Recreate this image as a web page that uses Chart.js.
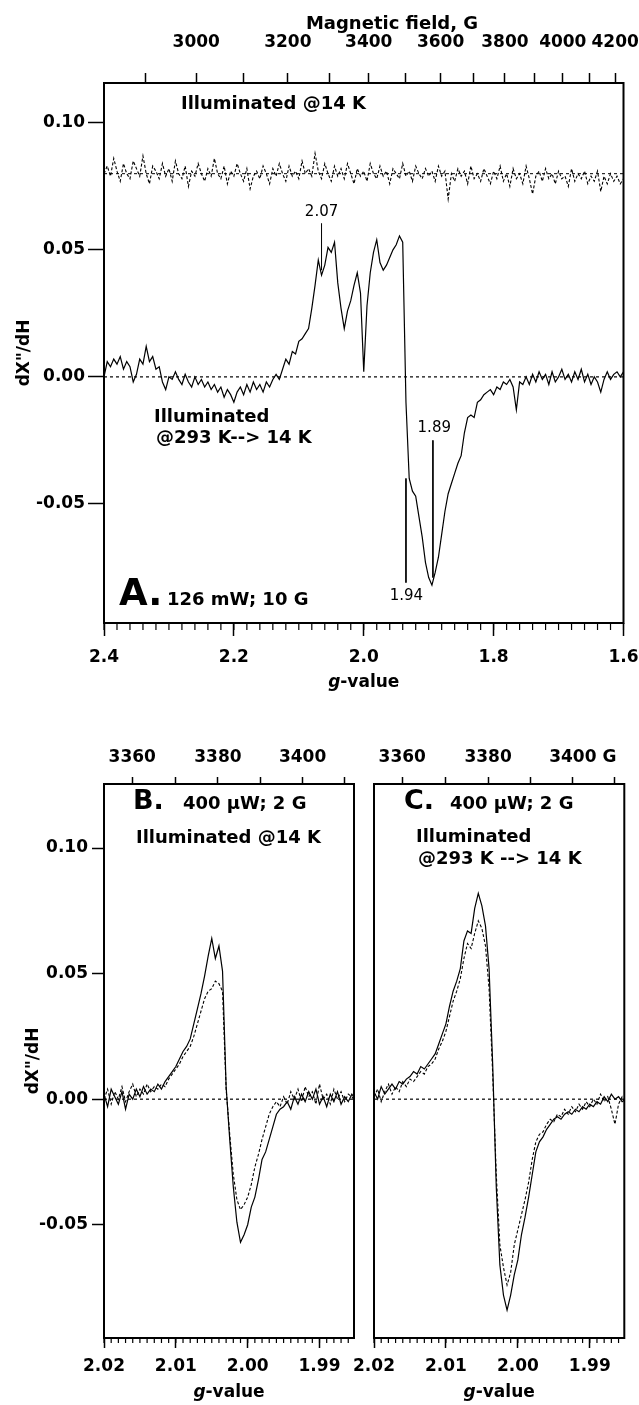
<!DOCTYPE html>
<html>
<head>
<meta charset="utf-8">
<script src="https://cdn.jsdelivr.net/npm/chart.js@4.4.1/dist/chart.umd.min.js"></script>
<style>
  html, body { margin: 0; padding: 0; background: #fff; }
  body { width: 639px; height: 1405px; position: relative; overflow: hidden; }
  canvas { position: absolute; }
  #chartA { left: 0; top: 0; }
  #chartB { left: 0; top: 700px; }
  #chartC { left: 330px; top: 700px; }
</style>
</head>
<body>
<canvas id="chartA" width="639" height="700"></canvas>
<canvas id="chartB" width="364" height="705"></canvas>
<canvas id="chartC" width="309" height="705"></canvas>
<script>
// g * B (gauss) at the spectrometer frequency, used for the top field axes
const K = 6774;

// ---- panel A : wide scan, g from 2.4 down to 1.6, one point every 0.005 ----
const gStartA = 2.4;
const gStepA = 0.005;
const gTicksA = [2.4, 2.2, 2.0, 1.8, 1.6];
const fieldTicksA = [2900, 3000, 3100, 3200, 3300, 3400, 3500, 3600, 3700, 3800, 3900, 4000, 4100, 4200];
const fieldLabelsA = [3000, 3200, 3400, 3600, 3800, 4000, 4200];

// illuminated @14 K (drawn offset to 0.08)
const illum14A = [
  0.080, 0.083, 0.079, 0.086, 0.081, 0.077, 0.084, 0.080, 0.078, 0.085,
  0.082, 0.079, 0.087, 0.080, 0.076, 0.083, 0.081, 0.078, 0.084, 0.079,
  0.082, 0.077, 0.085, 0.080, 0.078, 0.083, 0.075, 0.081, 0.079, 0.084,
  0.080, 0.077, 0.082, 0.079, 0.086, 0.080, 0.078, 0.083, 0.076, 0.081,
  0.079, 0.084, 0.080, 0.077, 0.082, 0.074, 0.079, 0.081, 0.078, 0.083,
  0.080, 0.076, 0.082, 0.079, 0.084, 0.080, 0.077, 0.083, 0.079, 0.081,
  0.078, 0.085, 0.080, 0.082, 0.079, 0.088, 0.081, 0.078, 0.084, 0.080,
  0.077, 0.083, 0.079, 0.082, 0.078, 0.084, 0.080, 0.076, 0.082, 0.079,
  0.081, 0.077, 0.084, 0.080, 0.078, 0.083, 0.079, 0.081, 0.076, 0.082,
  0.080, 0.078, 0.084, 0.079, 0.081, 0.077, 0.083, 0.080, 0.078, 0.082,
  0.079, 0.081, 0.077, 0.083, 0.079, 0.081, 0.070, 0.080, 0.077, 0.082,
  0.079, 0.081, 0.076, 0.083, 0.078, 0.080, 0.077, 0.082, 0.079, 0.076,
  0.081, 0.078, 0.083, 0.077, 0.080, 0.075, 0.082, 0.078, 0.080, 0.076,
  0.083, 0.078, 0.072, 0.079, 0.081, 0.077, 0.082, 0.078, 0.080, 0.076,
  0.081, 0.078, 0.079, 0.075, 0.082, 0.077, 0.080, 0.078, 0.081, 0.076,
  0.079, 0.077, 0.081, 0.073, 0.079, 0.076, 0.080, 0.077, 0.079, 0.076,
  0.078
];

// illuminated @293 K --> 14 K
const illum293A = [
  0.000, 0.006, 0.004, 0.007, 0.005, 0.008, 0.003, 0.006, 0.004, -0.002,
  0.001, 0.007, 0.005, 0.012, 0.006, 0.008, 0.003, 0.004, -0.002, -0.005,
  0.000, -0.001, 0.002, -0.001, -0.003, 0.001, -0.002, -0.004, 0.000, -0.003,
  -0.001, -0.004, -0.002, -0.005, -0.003, -0.006, -0.004, -0.008, -0.005, -0.007,
  -0.010, -0.006, -0.004, -0.007, -0.003, -0.006, -0.002, -0.005, -0.003, -0.006,
  -0.002, -0.004, -0.001, 0.001, -0.001, 0.003, 0.007, 0.005, 0.010, 0.009,
  0.014, 0.015, 0.017, 0.019, 0.027, 0.036, 0.046, 0.040, 0.044, 0.051,
  0.049, 0.053, 0.037, 0.027, 0.019, 0.026, 0.030, 0.036, 0.041, 0.033,
  0.002, 0.028, 0.041, 0.049, 0.054, 0.045, 0.042, 0.044, 0.047, 0.050,
  0.052, 0.0555, 0.053, -0.010, -0.040, -0.045, -0.047, -0.055, -0.063, -0.073,
  -0.079, -0.082, -0.077, -0.071, -0.062, -0.053, -0.046, -0.042, -0.038, -0.034,
  -0.031, -0.022, -0.016, -0.015, -0.016, -0.010, -0.009, -0.007, -0.006, -0.005,
  -0.007, -0.004, -0.005, -0.002, -0.003, -0.001, -0.004, -0.013, -0.002, -0.003,
  0.000, -0.003, 0.001, -0.002, 0.002, -0.001, 0.001, -0.003, 0.002, -0.002,
  0.000, 0.003, -0.001, 0.001, -0.002, 0.002, -0.001, 0.003, -0.002, 0.001,
  -0.003, 0.000, -0.002, -0.006, -0.001, 0.002, -0.001, 0.001, 0.002, 0.000, 0.002
];

// g-value markers in panel A
const markG = [2.065, 1.935, 1.8935];
const markFrom = [0.042, -0.040, -0.025];
const markTo = [0.0605, -0.081, -0.079];
const markText = ['2.07', '1.94', '1.89'];
const markTextG = [2.065, 1.9343, 1.8914];
const markTextY = [0.0648, -0.0862, -0.0201];

// ---- panels B and C : narrow scan, g from 2.02 down, one point every 0.0005 ----
const gStartBC = 2.02;
const gStepBC = 0.0005;
const gTicksBC = [2.02, 2.01, 2.00, 1.99];
const fieldTicksBC = [3360, 3370, 3380, 3390, 3400, 3410];
const fieldLabelsBC = [3360, 3380, 3400];
const yTicks = [-0.05, 0, 0.05, 0.10];

const solidB = [
  0.002, -0.003, 0.004, 0.001, -0.002, 0.003, -0.004, 0.002, 0.000, 0.004,
  0.001, 0.005, 0.002, 0.004, 0.003, 0.006, 0.004, 0.007, 0.009, 0.011,
  0.013, 0.016, 0.019, 0.021, 0.024, 0.030, 0.036, 0.042, 0.049, 0.057,
  0.064, 0.056, 0.061, 0.051, 0.005, -0.016, -0.035, -0.049, -0.057, -0.054,
  -0.050, -0.043, -0.039, -0.032, -0.024, -0.021, -0.016, -0.011, -0.006, -0.004,
  -0.003, -0.001, -0.004, 0.001, -0.002, 0.002, -0.001, 0.003, 0.000, 0.004,
  -0.002, 0.001, -0.003, 0.002, -0.001, 0.003, -0.002, 0.001, -0.001, 0.002, 0.000
];
const dashedB = [
  0.000, 0.004, -0.002, 0.003, 0.000, 0.005, -0.001, 0.003, 0.006, 0.001,
  0.004, 0.002, 0.006, 0.003, 0.005, 0.004, 0.006, 0.005, 0.008, 0.010,
  0.012, 0.014, 0.017, 0.019, 0.021, 0.025, 0.030, 0.035, 0.040, 0.043,
  0.044, 0.047, 0.046, 0.043, 0.004, -0.014, -0.030, -0.040, -0.044, -0.042,
  -0.039, -0.034, -0.027, -0.022, -0.016, -0.011, -0.006, -0.003, -0.001, -0.003,
  0.001, -0.002, 0.003, 0.000, 0.004, -0.001, 0.005, 0.001, 0.003, -0.002,
  0.006, 0.000, 0.002, -0.002, 0.004, 0.000, 0.003, -0.001, 0.002, 0.001, -0.001
];
const solidC = [
  0.003, 0.000, 0.005, 0.002, 0.004, 0.006, 0.004, 0.007, 0.006, 0.008,
  0.009, 0.011, 0.010, 0.013, 0.012, 0.014, 0.016, 0.018, 0.022, 0.026,
  0.030, 0.037, 0.043, 0.047, 0.052, 0.063, 0.067, 0.066, 0.076, 0.082,
  0.077, 0.069, 0.052, 0.014, -0.035, -0.066, -0.078, -0.084, -0.078, -0.070,
  -0.064, -0.054, -0.047, -0.039, -0.030, -0.021, -0.017, -0.015, -0.012, -0.010,
  -0.008, -0.007, -0.008, -0.006, -0.005, -0.006, -0.004, -0.005, -0.003, -0.004,
  -0.002, -0.003, -0.001, -0.002, 0.001, -0.001, 0.002, 0.000, 0.001, -0.001, 0.000
];
const dashedC = [
  0.001, 0.004, -0.001, 0.003, 0.006, 0.002, 0.005, 0.003, 0.007, 0.005,
  0.008, 0.007, 0.009, 0.011, 0.010, 0.013, 0.014, 0.016, 0.020, 0.023,
  0.027, 0.033, 0.039, 0.043, 0.048, 0.056, 0.062, 0.060, 0.066, 0.071,
  0.068, 0.061, 0.044, 0.010, -0.030, -0.058, -0.067, -0.074, -0.069, -0.058,
  -0.052, -0.046, -0.040, -0.033, -0.024, -0.017, -0.014, -0.013, -0.010, -0.008,
  -0.009, -0.006, -0.007, -0.004, -0.006, -0.003, -0.005, -0.002, -0.004, -0.001,
  -0.003, 0.000, -0.002, 0.002, -0.001, 0.001, -0.004, -0.010, -0.002, 0.001, -0.002
];

const FONT = 'DejaVu Sans';
Chart.defaults.font.family = FONT;
Chart.defaults.color = '#000';

function spectrum(values, gStart, gStep) {
  return values.map((v, i) => ({ x: +(gStart - i * gStep).toFixed(5), y: v }));
}

function trace(data, dash, width) {
  return {
    data: data, showLine: true, borderColor: '#000', borderWidth: width || 1.2,
    borderDash: dash || [], pointRadius: 0, fill: false, tension: 0
  };
}

function minorValues(lo, hi, step) {
  const out = [];
  for (let v = lo; v <= hi + step / 2; v += step) out.push(+v.toFixed(4));
  return out;
}

const bold17 = { size: 17, weight: 'bold' };

// box, minor ticks, labels, g-value title
const decor = {
  id: 'decor',
  afterDraw(chart, args, o) {
    const { ctx, chartArea: a, scales } = chart;
    ctx.save();
    ctx.strokeStyle = '#000';
    ctx.fillStyle = '#000';
    ctx.lineWidth = 1.2;
    (o.minor || []).forEach(m => {
      const s = scales[m.scale];
      m.values.forEach(v => {
        const px = s.getPixelForValue(v);
        if (px < a.left - 0.5 || px > a.right + 0.5) return;
        ctx.beginPath();
        ctx.moveTo(px, a.bottom);
        ctx.lineTo(px, a.bottom + m.len);
        ctx.stroke();
      });
    });
    ctx.lineWidth = 2;
    ctx.strokeRect(a.left, a.top, a.right - a.left, a.bottom - a.top);

    (o.texts || []).forEach(t => {
      ctx.font = t.font || ('bold 18px "' + FONT + '"');
      ctx.textAlign = t.align || 'left';
      ctx.textBaseline = t.baseline || 'middle';
      let x = t.x, y = t.y;
      if (t.data) { x = scales.x.getPixelForValue(t.x); y = scales.y.getPixelForValue(t.y); }
      ctx.fillText(t.text, x, y);
    });

    if (o.suffix) {
      const s = scales[o.suffix.scale];
      ctx.font = 'bold 17px "' + FONT + '"';
      ctx.textAlign = 'left';
      ctx.textBaseline = 'middle';
      const px = s.getPixelForValue(K / o.suffix.field);
      const w = ctx.measureText(String(o.suffix.field)).width;
      ctx.fillText(o.suffix.text, px + w / 2, o.suffix.y);
    }

    if (o.gTitle) {
      const cx = (a.left + a.right) / 2;
      ctx.textBaseline = 'middle';
      ctx.textAlign = 'left';
      ctx.font = 'italic bold 17px "' + FONT + '"';
      const w1 = ctx.measureText('g').width;
      ctx.font = 'bold 17px "' + FONT + '"';
      const w2 = ctx.measureText('-value').width;
      const x0 = cx - (w1 + w2) / 2;
      ctx.font = 'italic bold 17px "' + FONT + '"';
      ctx.fillText('g', x0, o.gTitle.y);
      ctx.font = 'bold 17px "' + FONT + '"';
      ctx.fillText('-value', x0 + w1, o.gTitle.y);
    }
    ctx.restore();
  }
};

function gAxis(ticks, min, max, digits, tickLen, pad, height) {
  return {
    type: 'linear', position: 'bottom', reverse: true, min: min, max: max,
    afterBuildTicks: s => { s.ticks = ticks.map(v => ({ value: v })); },
    ticks: { autoSkip: false, maxRotation: 0, padding: pad, font: bold17, callback: v => v.toFixed(digits) },
    grid: { drawOnChartArea: false, tickLength: tickLen, tickWidth: 1.5, tickColor: '#000' },
    border: { display: false },
    afterFit: s => { s.height = height; s.paddingLeft = 0; s.paddingRight = 0; }
  };
}

function fieldAxis(ticks, labels, min, max, tickLen, pad, height) {
  return {
    type: 'linear', position: 'top', reverse: true, min: min, max: max,
    afterBuildTicks: s => { s.ticks = ticks.map(b => ({ value: K / b })); },
    ticks: {
      autoSkip: false, maxRotation: 0, padding: pad, font: bold17,
      callback: v => { const b = Math.round(K / v); return labels.includes(b) ? String(b) : ''; }
    },
    grid: { drawOnChartArea: false, tickLength: tickLen, tickWidth: 1.5, tickColor: '#000' },
    border: { display: false },
    afterFit: s => { s.height = height; s.paddingLeft = 0; s.paddingRight = 0; }
  };
}

function valueAxis(min, max, show, tickLen, pad, titlePad) {
  return {
    type: 'linear', min: min, max: max, display: show,
    afterBuildTicks: s => { s.ticks = yTicks.map(v => ({ value: v })); },
    ticks: { padding: pad, font: bold17, callback: v => v.toFixed(2) },
    grid: { drawOnChartArea: false, tickLength: tickLen, tickWidth: 1.5, tickColor: '#000' },
    border: { display: false },
    title: { display: show, text: 'dX"/dH', font: bold17, padding: { top: titlePad, bottom: 0 } },
    afterFit: s => { s.width = show ? 104 : 0; s.paddingTop = 0; s.paddingBottom = 0; }
  };
}

const baseOptions = {
  responsive: false,
  animation: false,
  events: [],
  plugins: { legend: { display: false }, tooltip: { enabled: false } }
};

// ---------- panel A ----------
const yMinA = -0.0969, yMaxA = 0.1157;
const dsA = [
  trace(spectrum(illum14A, gStartA, gStepA), [3, 2], 1.1),
  trace(spectrum(illum293A, gStartA, gStepA), [], 1.2),
  trace([{ x: 2.4, y: 0 }, { x: 1.6, y: 0 }], [3, 3], 1.2),
  trace([{ x: 2.4, y: 0.08 }, { x: 1.6, y: 0.08 }], [3, 3], 1.0)
];
markG.forEach((g, i) => dsA.push(trace([{ x: g, y: markFrom[i] }, { x: g, y: markTo[i] }], [], 1.0)));

new Chart(document.getElementById('chartA'), {
  type: 'scatter',
  data: { datasets: dsA },
  options: Object.assign({}, baseOptions, {
    layout: { padding: { left: 0, right: 15.5, top: 0, bottom: 0 } },
    scales: {
      x: gAxis(gTicksA, 1.6, 2.4, 1, 13, 11, 77),
      xTop: fieldAxis(fieldTicksA, fieldLabelsA, 1.6, 2.4, 10, 20, 83),
      y: valueAxis(yMinA, yMaxA, true, 16, 3, 14)
    },
    plugins: Object.assign({}, baseOptions.plugins, {
      decor: {
        minor: [{ scale: 'x', values: minorValues(1.6, 2.4, 0.02), len: 7 }],
        texts: [
          { text: 'Magnetic field, G', x: 392, y: 24, align: 'center' },
          { text: 'Illuminated @14 K', x: 181, y: 104 },
          { text: 'Illuminated', x: 154, y: 417 },
          { text: '@293 K--> 14 K', x: 156, y: 438 },
          { text: 'A.', x: 119, y: 605, baseline: 'alphabetic', font: 'bold 37px "' + FONT + '"' },
          { text: '126 mW; 10 G', x: 167, y: 605, baseline: 'alphabetic' }
        ].concat(markText.map((t, i) => ({
          text: t, x: markTextG[i], y: markTextY[i], data: true, align: 'center',
          font: '15px "' + FONT + '"'
        }))),
        gTitle: { y: 683 }
      }
    })
  }),
  plugins: [decor]
});

// ---------- panels B and C ----------
const yMinBC = -0.0951, yMaxBC = 0.1255;
const gMinBC = 1.9852;

function narrowPanel(id, solid, dashed, showY, padLeft, padRight, texts, suffix) {
  return new Chart(document.getElementById(id), {
    type: 'scatter',
    data: {
      datasets: [
        trace(spectrum(solid, gStartBC, gStepBC), [], 1.2),
        trace(spectrum(dashed, gStartBC, gStepBC), [3, 2], 1.1),
        trace([{ x: 2.02, y: 0 }, { x: gMinBC, y: 0 }], [3, 3], 1.2)
      ]
    },
    options: Object.assign({}, baseOptions, {
      layout: { padding: { left: padLeft, right: padRight, top: 0, bottom: 0 } },
      scales: {
        x: gAxis(gTicksBC, gMinBC, 2.02, 2, 10, 8.5, 67),
        xTop: fieldAxis(fieldTicksBC, fieldLabelsBC, gMinBC, 2.02, 7, 9, 84),
        y: valueAxis(yMinBC, yMaxBC, showY, 12, 4, 23)
      },
      plugins: Object.assign({}, baseOptions.plugins, {
        decor: {
          minor: [{ scale: 'x', values: minorValues(1.985, 2.02, 0.001), len: 5 }],
          texts: texts,
          suffix: suffix,
          gTitle: { y: 693 }
        }
      })
    }),
    plugins: [decor]
  });
}

narrowPanel('chartB', solidB, dashedB, true, 0, 10, [
  { text: 'B.', x: 133, y: 109, baseline: 'alphabetic', font: 'bold 27px "' + FONT + '"' },
  { text: '400 \u00b5W; 2 G', x: 183, y: 109, baseline: 'alphabetic' },
  { text: 'Illuminated @14 K', x: 136, y: 138 }
], null);

narrowPanel('chartC', solidC, dashedC, false, 44, 14.7, [
  { text: 'C.', x: 74, y: 109, baseline: 'alphabetic', font: 'bold 27px "' + FONT + '"' },
  { text: '400 \u00b5W; 2 G', x: 120, y: 109, baseline: 'alphabetic' },
  { text: 'Illuminated', x: 86, y: 137 },
  { text: '@293 K --> 14 K', x: 88, y: 159 }
], { scale: 'xTop', field: 3400, text: ' G', y: 58 });
</script>
</body>
</html>
